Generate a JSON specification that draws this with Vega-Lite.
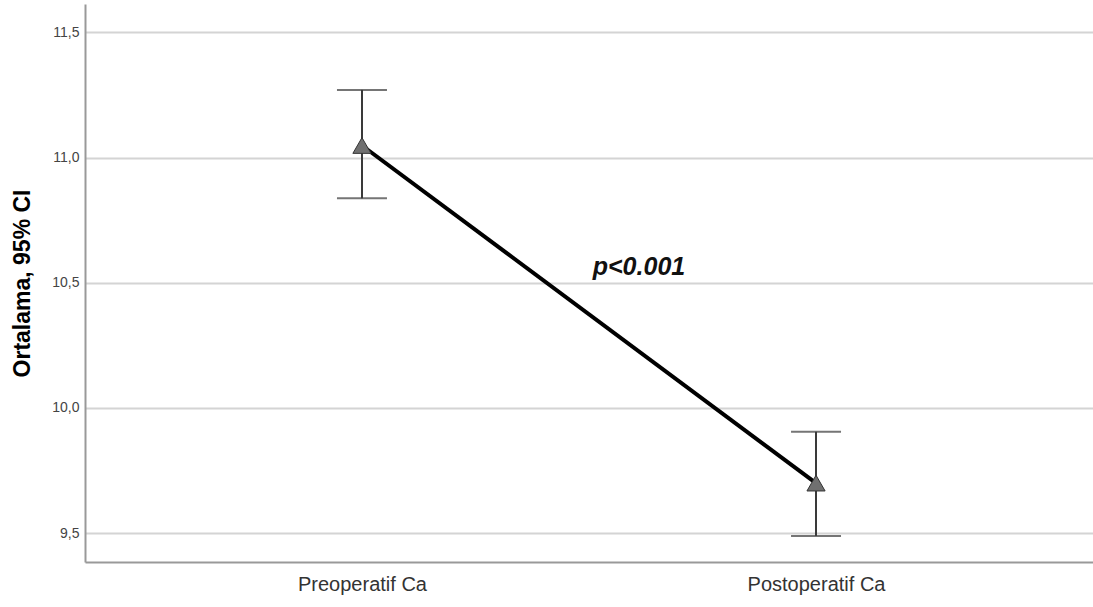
{
  "$schema": "https://vega.github.io/schema/vega-lite/v6.json",
  "width": 1008,
  "height": 558,
  "autosize": {"type": "none"},
  "padding": {"left": 85, "top": 4, "right": 0, "bottom": 45},
  "background": "white",
  "config": {
    "view": {"stroke": null},
    "font": "Liberation Sans"
  },
  "data": {
    "values": [
      {"group": "Preoperatif Ca", "mean": 11.048, "lo": 10.837, "hi": 11.27, "label": "p<0.001", "ly": 10.531},
      {"group": "Postoperatif Ca", "mean": 9.7, "lo": 9.489, "hi": 9.905, "label": "", "ly": 10.531}
    ]
  },
  "encoding": {
    "x": {
      "field": "group",
      "type": "nominal",
      "sort": ["Preoperatif Ca", "Postoperatif Ca"],
      "scale": {"type": "point", "padding": 0.61},
      "axis": {
        "title": null,
        "labelAngle": 0,
        "labelFontSize": 20,
        "labelColor": "#333333",
        "labelPadding": 12,
        "ticks": false,
        "grid": false,
        "domainColor": "#999999",
        "domainWidth": 2
      }
    }
  },
  "layer": [
    {
      "mark": {"type": "rule", "color": "#3a3a3a", "strokeWidth": 2},
      "encoding": {
        "y": {
          "field": "lo",
          "type": "quantitative",
          "scale": {"domain": [9.385, 11.613], "nice": false, "zero": false},
          "axis": {
            "title": "Ortalama, 95% CI",
            "titleFontSize": 23,
            "titleFontWeight": "bold",
            "titleColor": "#000000",
            "titlePadding": 17,
            "values": [9.5, 10, 10.5, 11, 11.5],
            "labelExpr": "replace(format(datum.value, '.1f'), '.', ',')",
            "labelFontSize": 14,
            "labelColor": "#444444",
            "labelPadding": 6,
            "ticks": false,
            "grid": true,
            "gridColor": "#d4d4d4",
            "gridWidth": 2,
            "domainColor": "#999999",
            "domainWidth": 2
          }
        },
        "y2": {"field": "hi"}
      }
    },
    {
      "mark": {"type": "tick", "color": "#3a3a3a", "thickness": 2, "size": 50, "orient": "horizontal"},
      "encoding": {"y": {"field": "lo", "type": "quantitative"}}
    },
    {
      "mark": {"type": "tick", "color": "#3a3a3a", "thickness": 2, "size": 50, "orient": "horizontal"},
      "encoding": {"y": {"field": "hi", "type": "quantitative"}}
    },
    {
      "mark": {"type": "line", "color": "#000000", "strokeWidth": 4},
      "encoding": {"y": {"field": "mean", "type": "quantitative"}}
    },
    {
      "mark": {"type": "point", "shape": "triangle-up", "filled": true, "fill": "#707070", "stroke": "#333333", "strokeWidth": 1, "opacity": 1, "size": 330},
      "encoding": {"y": {"field": "mean", "type": "quantitative"}}
    },
    {
      "transform": [{"filter": "datum.label != ''"}],
      "mark": {"type": "text", "fontSize": 25, "fontWeight": "bold", "fontStyle": "italic", "color": "#111111", "align": "center", "baseline": "alphabetic", "dx": 277},
      "encoding": {
        "y": {"field": "ly", "type": "quantitative"},
        "text": {"field": "label"}
      }
    }
  ]
}
